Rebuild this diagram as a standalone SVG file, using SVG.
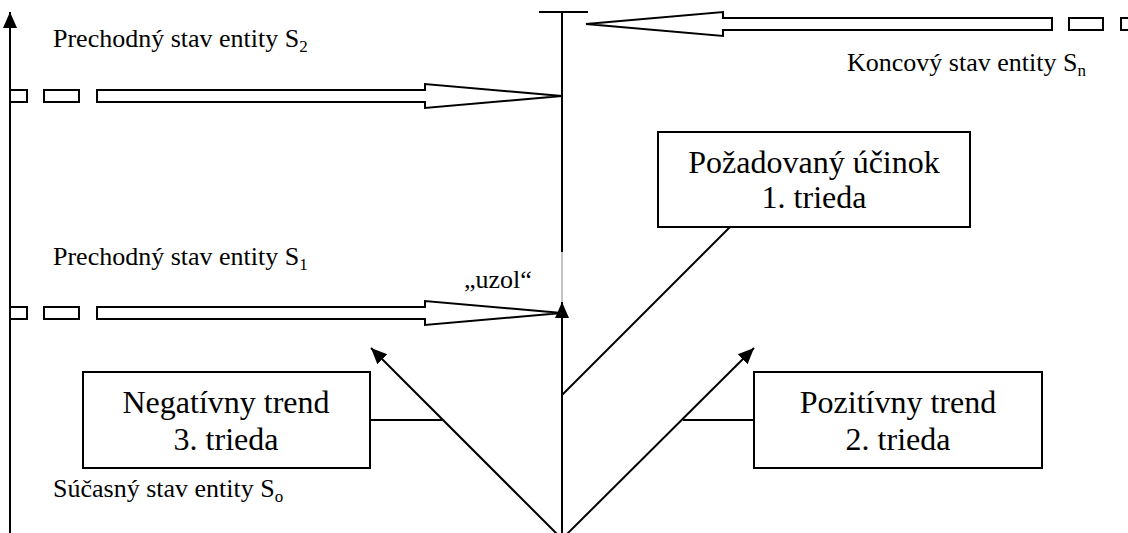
<svg xmlns="http://www.w3.org/2000/svg" width="1128" height="533" viewBox="0 0 1128 533">
<style>
  .lbl { font-family: "Liberation Serif", "Times New Roman", serif; font-size: 26px; fill: #000; }
  .box { font-family: "Liberation Serif", "Times New Roman", serif; font-size: 32px; fill: #000; text-anchor: middle; }
  .frame { fill: #fff; stroke: #000; stroke-width: 2; }
  .ln { fill: none; stroke: #000; stroke-width: 2; }
  .hollow { fill: #fff; stroke: #000; stroke-width: 2; stroke-linejoin: miter; }
</style>
<defs>
  <marker id="ah" markerUnits="userSpaceOnUse" markerWidth="18" markerHeight="16" refX="16" refY="7" orient="auto" viewBox="0 0 18 14">
    <path d="M0,0 L16,7 L0,14 Z" fill="#000"/>
  </marker>
</defs>
<rect width="1128" height="533" fill="#fff"/>

<g id="connectors">
  <!-- time axis -->
  <line class="ln" x1="10" y1="533" x2="10" y2="12" marker-end="url(#ah)"/>
  <!-- upper vertical with T bar -->
  <line class="ln" x1="562" y1="12" x2="562" y2="252"/>
  <line class="ln" x1="539" y1="12" x2="588" y2="12"/>
  <line x1="562" y1="252" x2="562" y2="305" stroke="#888" stroke-width="1"/>
  <!-- upward arrow to node -->
  <line class="ln" x1="562" y1="533" x2="562" y2="302" marker-end="url(#ah)"/>
  <!-- diagonals -->
  <line class="ln" x1="562" y1="539" x2="371" y2="348" marker-end="url(#ah)"/>
  <line class="ln" x1="562" y1="539" x2="754" y2="348" marker-end="url(#ah)"/>
  <!-- box connectors -->
  <line class="ln" x1="730" y1="227" x2="562" y2="395"/>
  <line class="ln" x1="370" y1="420" x2="442" y2="420"/>
  <line class="ln" x1="683" y1="420" x2="754" y2="420"/>
  <!-- hollow arrow S2 -->
  <rect class="hollow" x="10" y="90" width="17" height="12"/>
  <rect class="hollow" x="44" y="90" width="35" height="12"/>
  <polygon class="hollow" points="97,90 425,90 425,84 562,96 425,108 425,102 97,102"/>
  <!-- hollow arrow S1 -->
  <rect class="hollow" x="10" y="307" width="17" height="12"/>
  <rect class="hollow" x="44" y="307" width="35" height="12"/>
  <polygon class="hollow" points="97,307 425,307 425,301 562,313 425,325 425,319 97,319"/>
  <!-- hollow arrow Sn -->
  <polygon class="hollow" points="1052,18 723,18 723,12 586,24 723,36 723,30 1052,30"/>
  <rect class="hollow" x="1069" y="18" width="34" height="12"/>
  <rect class="hollow" x="1121" y="18" width="30" height="12"/>
</g>

<g id="label-s2"><text class="lbl" x="53" y="47">Prechodný stav entity S<tspan font-size="17" dy="5">2</tspan></text></g>
<g id="label-sn"><text class="lbl" x="847" y="71">Koncový stav entity S<tspan font-size="17" dy="5">n</tspan></text></g>
<g id="label-s1"><text class="lbl" x="53" y="265">Prechodný stav entity S<tspan font-size="17" dy="5">1</tspan></text></g>
<g id="label-uzol"><text class="lbl" x="464" y="288">„uzol“</text></g>
<g id="label-s0"><text class="lbl" x="53" y="497">Súčasný stav entity S<tspan font-size="17" dy="5">o</tspan></text></g>

<g id="node-pozadovany">
  <rect class="frame" x="658" y="132" width="312" height="95"/>
  <text class="box" x="814" y="173">Požadovaný účinok</text>
  <text class="box" x="814" y="208">1. trieda</text>
</g>
<g id="node-negativny">
  <rect class="frame" x="83" y="372" width="287" height="96"/>
  <text class="box" x="226" y="413">Negatívny trend</text>
  <text class="box" x="226" y="450">3. trieda</text>
</g>
<g id="node-pozitivny">
  <rect class="frame" x="754" y="372" width="288" height="96"/>
  <text class="box" x="898" y="413">Pozitívny trend</text>
  <text class="box" x="898" y="450">2. trieda</text>
</g>
</svg>
